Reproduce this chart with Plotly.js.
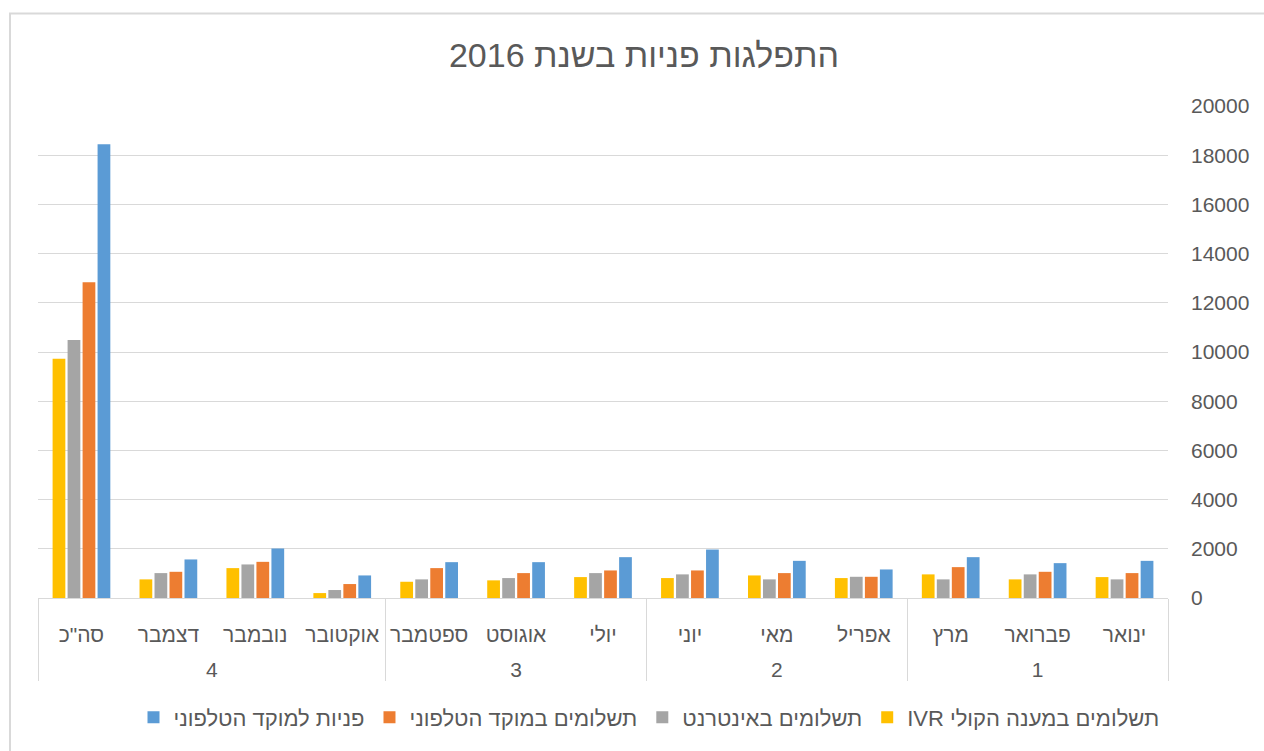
<!DOCTYPE html>
<html>
<head>
<meta charset="utf-8">
<script src="https://cdn.plot.ly/plotly-3.0.1.min.js"></script>
<style>html,body{margin:0;padding:0;background:#fff;}#chart{width:1264px;height:751px;}</style>
</head>
<body>
<div id="chart"></div>
<script>
const quarters = ["1","1","1","2","2","2","3","3","3","4","4","4","4"];
const months = ["ינואר","פברואר","מרץ","אפריל","מאי","יוני","יולי","אוגוסט","ספטמבר","אוקטובר","נובמבר","דצמבר","סה\"כ"];

const seriesNames = ["פניות למוקד הטלפוני","תשלומים במוקד הטלפוני","תשלומים באינטרנט","\u202Bתשלומים במענה הקולי IVR\u202C"];
const phoneInquiries = [1510,1417,1660,1160,1510,1970,1660,1457,1457,917,2012,1567,18449];
const phonePayments  = [1012,1065,1255,862,1012,1120,1120,1012,1215,567,1470,1065,12834];
const internetPayments = [757,960,757,862,757,960,1012,810,757,324,1364,1012,10486];
const ivrPayments    = [850,757,960,810,917,810,850,717,660,200,1215,757,9729];

const colors = ["#5B9BD5","#ED7D31","#A5A5A5","#FFC000"];
const values = [phoneInquiries, phonePayments, internetPayments, ivrPayments];

// a leading line break moves the outer (quarter) labels down, as in the reference
const quarterLabels = quarters.map(q => '<br>' + q);

const traces = values.map((v,i)=>({
  type:'bar',
  name: seriesNames[i],
  x:[quarterLabels, months],
  y:v,
  marker:{color:colors[i]},
  hoverinfo:'y'
}));

const W=1264,H=751,L=38,R=96,T=106,B=151;
const pw=W-L-R, ph=H-T-B;
const px=(x)=>(x-L)/pw;
const py=(y)=>(H-B-y)/ph;

const layout={
  width:W,height:H,
  margin:{l:L,r:R,t:T,b:B,pad:0},
  paper_bgcolor:'#fff',plot_bgcolor:'#fff',
  font:{family:'"Liberation Sans", Arial, sans-serif',color:'#595959',size:20},
  title:{text:'התפלגות פניות בשנת 2016',font:{size:34,color:'#595959'},x:644/W,xanchor:'center',y:1-55/H,yanchor:'middle'},
  barmode:'group',bargap:0.31,bargroupgap:0.15,
  xaxis:{type:'multicategory',autorange:'reversed',showline:true,linecolor:'#d9d9d9',linewidth:1,
    showdividers:true,dividercolor:'#d9d9d9',dividerwidth:1,ticks:'',tickangle:0,ticklabelstandoff:18,
    tickfont:{size:21,color:'#595959'},showgrid:false,zeroline:false},
  yaxis:{side:'right',range:[0,20000],dtick:2000,tick0:0,tickformat:'d',showgrid:true,gridcolor:'#d9d9d9',gridwidth:1,
    zeroline:false,showline:false,ticks:'',ticklabelstandoff:22,tickfont:{size:21,color:'#595959'},fixedrange:true},
  showlegend:true,
  legend:{orientation:'h',x:px(649),xanchor:'center',y:py(720),yanchor:'middle',font:{size:22,color:'#595959'},traceorder:'normal',itemwidth:30},
  shapes:[{type:'rect',xref:'paper',yref:'paper',x0:px(10),x1:px(1300),y0:py(790),y1:py(13),line:{color:'#d9d9d9',width:2},fillcolor:'rgba(0,0,0,0)',layer:'below'}]
};
Plotly.newPlot('chart',traces,layout,{staticPlot:true,displayModeBar:false});
</script>
</body>
</html>
